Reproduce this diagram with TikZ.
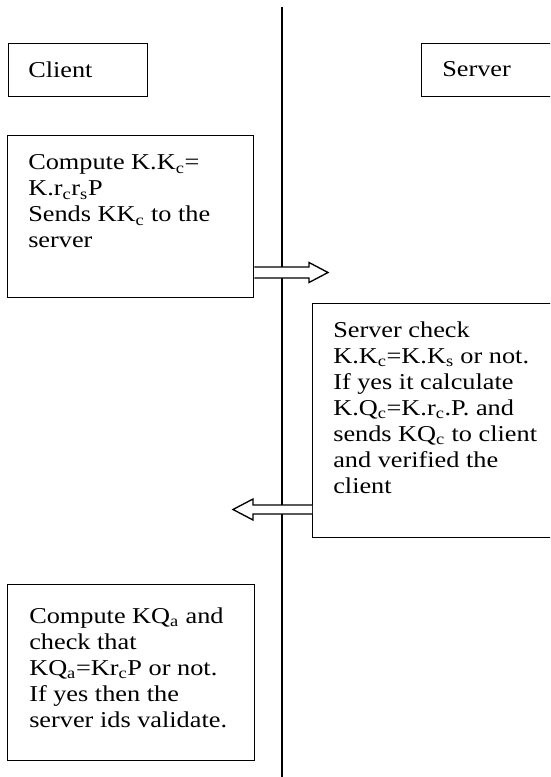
\documentclass[tikz,border=0pt]{standalone}
\usepackage{fontspec}
\setmainfont{Liberation Serif}[FakeStretch=1.16]
\usetikzlibrary{calc}
\tikzset{
  lane/.style={line width=1.1pt},
  box/.style={draw, line width=1.1pt, rectangle, anchor=north west, inner sep=0pt},
  txt/.style={anchor=north west, align=left, inner sep=0pt, font=\fontsize{17}{19.5}\selectfont},
  lbl/.style={anchor=west, inner sep=0pt, font=\fontsize{17}{19.5}\selectfont},
  blockarr/.style={draw, fill=white, line width=1pt, line join=miter}
}
\begin{document}
\begin{tikzpicture}[x=0.75pt,y=-0.75pt]
\useasboundingbox (0,0) rectangle (550,777);
\clip (0,0) rectangle (550,777);
% lifeline
\coordinate (ltop) at (282,7);
\coordinate (lbot) at (282,780);
\draw[lane] (ltop) -- (lbot);
% headers
\node[box, minimum width={139.5*0.75pt}, minimum height={53*0.75pt}] (client) at (7.5,43) {};
\node[lbl] (clientl) at (28,69.5) {Client};
\node[box, minimum width={150*0.75pt}, minimum height={53*0.75pt}] (server) at (421,43) {};
\node[lbl] (serverl) at (442,69.5) {Server};
% box 1
\node[box, minimum width={246*0.75pt}, minimum height={162*0.75pt}] (b1) at (7,135) {};
\node[txt] (t1) at (28,154.5) {Compute K.K\textsubscript{c}=\\K.r\textsubscript{c}r\textsubscript{s}P\\Sends KK\textsubscript{c} to the\\server};
% box 2
\node[box, minimum width={246*0.75pt}, minimum height={234*0.75pt}] (b2) at (312,303) {};
\node[txt] (t2) at (333,321.5) {Server check\\K.K\textsubscript{c}=K.K\textsubscript{s} or not.\\If yes it calculate\\K.Q\textsubscript{c}=K.r\textsubscript{c}.P. and\\sends KQ\textsubscript{c} to client\\and verified the\\client};
% box 3
\node[box, minimum width={247*0.75pt}, minimum height={176*0.75pt}] (b3) at (7,584) {};
\node[txt] (t3) at (29,607.5) {Compute KQ\textsubscript{a} and\\check that\\KQ\textsubscript{a}=Kr\textsubscript{c}P or not.\\If yes then the\\server ids validate.};
% arrow 1 (client -> server)
\coordinate (s1) at ($(b1.north east)+(0,137.5)$);
\coordinate (e1) at (328,272.5);
\draw[blockarr] ($(s1)+(0,-5.5)$) -- ($(e1)+(-19,-5.5)$) -- ($(e1)+(-19,-10)$) -- (e1)
  -- ($(e1)+(-19,10)$) -- ($(e1)+(-19,5.5)$) -- ($(s1)+(0,5.5)$);
% arrow 2 (server -> client)
\coordinate (s2) at ($(b2.north west)+(0,206.5)$);
\coordinate (e2) at (233,509.5);
\draw[blockarr] ($(s2)+(0,-4.5)$) -- ($(e2)+(20,-4.5)$) -- ($(e2)+(20,-10.5)$) -- (e2)
  -- ($(e2)+(20,10.5)$) -- ($(e2)+(20,4.5)$) -- ($(s2)+(0,4.5)$);
\end{tikzpicture}
\end{document}
